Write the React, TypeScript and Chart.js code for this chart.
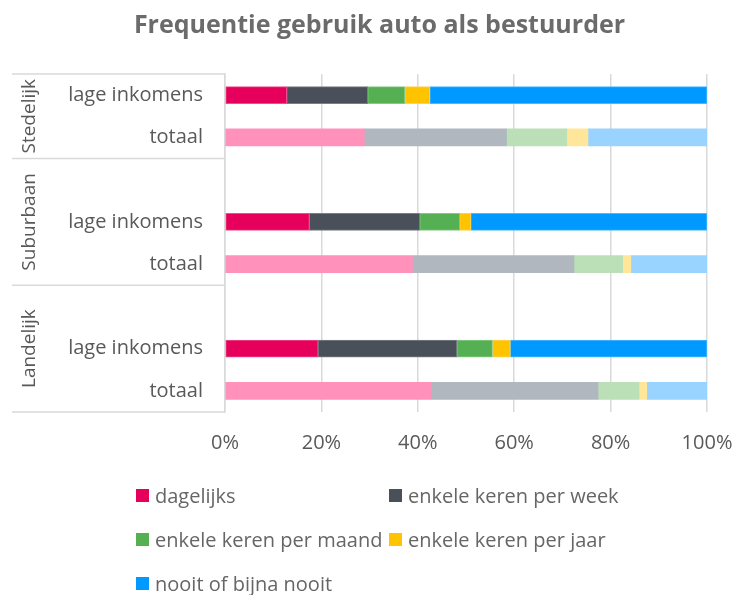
import React, { useEffect, useRef } from "react";
import { Chart, registerables } from "chart.js";

Chart.register(...registerables);

const FONT = "'Open Sans', 'Noto Sans', sans-serif";
const TEXT = "#595959";

const categories = ["lage inkomens", "totaal", "", "lage inkomens", "totaal", "", "lage inkomens", "totaal"];
const groupLabels = ["Stedelijk", "Suburbaan", "Landelijk"];
const groupStarts = [0, 2, 5];
const groupEnds = [1, 4, 7];

const seriesNames = ["dagelijks", "enkele keren per week", "enkele keren per maand", "enkele keren per jaar", "nooit of bijna nooit"];
const dagelijks = [12.8, 28.9, null, 17.5, 38.9, null, 19.3, 42.8];
const perWeek = [16.8, 29.5, null, 22.9, 33.5, null, 28.8, 34.6];
const perMaand = [7.7, 12.5, null, 8.3, 10.1, null, 7.4, 8.5];
const perJaar = [5.2, 4.4, null, 2.3, 1.7, null, 3.7, 1.6];
const nooit = [57.5, 24.7, null, 49.0, 15.8, null, 40.8, 12.5];

const darkColors = ["#E6005C", "#4A5059", "#55B054", "#FFC300", "#0099FF"];
const lightColors = ["#FF91BB", "#B0B7BF", "#BBE0B8", "#FFE699", "#99D3FF"];
const edgeColors = ["#EE4D8D", "#7A7F86", "#88C887", "#FFD24D", "#4DB8FF"];

const xTicks = [0, 20, 40, 60, 80, 100];

const groupPlugin = {
  id: "groupPlugin",
  afterDraw(chart: any) {
    const ctx = chart.ctx;
    const y = chart.scales.y;
    const step = y.getPixelForValue(1) - y.getPixelForValue(0);
    const xl = 12;
    const xr = chart.chartArea.left;
    ctx.save();
    ctx.strokeStyle = "#D9D9D9";
    ctx.lineWidth = 1.5;
    const bounds: number[] = [];
    groupLabels.forEach((g, i) => {
      const top = y.getPixelForValue(groupStarts[i]) - step / 2;
      const bot = y.getPixelForValue(groupEnds[i]) + step / 2;
      if (i === 0) bounds.push(top);
      bounds.push(bot);
      ctx.save();
      ctx.translate(30, (top + bot) / 2);
      ctx.rotate(-Math.PI / 2);
      ctx.fillStyle = TEXT;
      ctx.font = `19px ${FONT}`;
      ctx.textAlign = "center";
      ctx.textBaseline = "middle";
      ctx.fillText(g, 0, 0);
      ctx.restore();
    });
    bounds.forEach((b) => {
      ctx.beginPath();
      ctx.moveTo(xl, b);
      ctx.lineTo(xr, b);
      ctx.stroke();
    });
    ctx.restore();
  },
};

export default function App() {
  const ref = useRef<HTMLCanvasElement>(null);
  useEffect(() => {
    const values = [dagelijks, perWeek, perMaand, perJaar, nooit];
    const isLage = categories.map((c) => c === "lage inkomens");
    const chart = new Chart(ref.current!, {
      type: "bar",
      data: {
        labels: categories,
        datasets: seriesNames.map((name, i) => ({
          label: name,
          data: values[i],
          backgroundColor: isLage.map((l) => (l ? darkColors[i] : lightColors[i])),
          borderColor: isLage.map((l) => (l ? edgeColors[i] : lightColors[i])),
          borderWidth: isLage.map((l) => (l ? 1 : 0)),
          borderSkipped: false,
          barThickness: 17,
        })),
      },
      options: {
        indexAxis: "y",
        animation: false,
        responsive: false,
        maintainAspectRatio: false,
        layout: { padding: { left: 52, right: 31, top: 0, bottom: 121 } },
        plugins: {
          legend: { display: false },
          tooltip: { enabled: false },
          title: {
            display: true,
            text: "Frequentie gebruik auto als bestuurder",
            color: "#6B6B6B",
            font: { family: FONT, size: 25, weight: "bold" },
            padding: { top: 11, bottom: 33 },
          },
        },
        scales: {
          x: {
            stacked: true,
            min: 0,
            max: 100,
            afterBuildTicks: (s: any) => {
              s.ticks = xTicks.map((v) => ({ value: v }));
            },
            afterFit: (s: any) => {
              s.paddingRight = 0;
              s.paddingLeft = 0;
            },
            ticks: {
              callback: (v: any) => v + "%",
              color: TEXT,
              font: { family: FONT, size: 20 },
              padding: 19,
              maxRotation: 0,
            },
            grid: { color: "#D9D9D9", lineWidth: 1.5, drawTicks: false },
            border: { display: false },
          },
          y: {
            stacked: true,
            afterFit: (s: any) => {
              s.width = 173;
            },
            ticks: {
              color: TEXT,
              font: { family: FONT, size: 20 },
              padding: 22,
            },
            grid: { display: false, drawTicks: false },
            border: { display: true, color: "#D9D9D9", width: 1.5 },
          },
        },
      },
      plugins: [groupPlugin],
    });
    return () => chart.destroy();
  }, []);

  const legendPos = [
    [136, 495],
    [389, 495],
    [136, 539],
    [389, 539],
    [136, 583],
  ];

  return (
    <div style={{ position: "absolute", left: 0, top: 0, width: 738, height: 595, background: "#fff", overflow: "hidden" }}>
      <canvas ref={ref} width={738} height={595} style={{ display: "block" }} />
      {seriesNames.map((n, i) => (
        <div
          key={n}
          style={{
            position: "absolute",
            left: legendPos[i][0],
            top: legendPos[i][1] - 14,
            height: 28,
            display: "flex",
            alignItems: "center",
            fontFamily: FONT,
            fontSize: 20,
            color: "#666",
            whiteSpace: "nowrap",
          }}
        >
          <span style={{ display: "inline-block", width: 13, height: 13, background: darkColors[i], marginRight: 6 }} />
          {n}
        </div>
      ))}
    </div>
  );
}
